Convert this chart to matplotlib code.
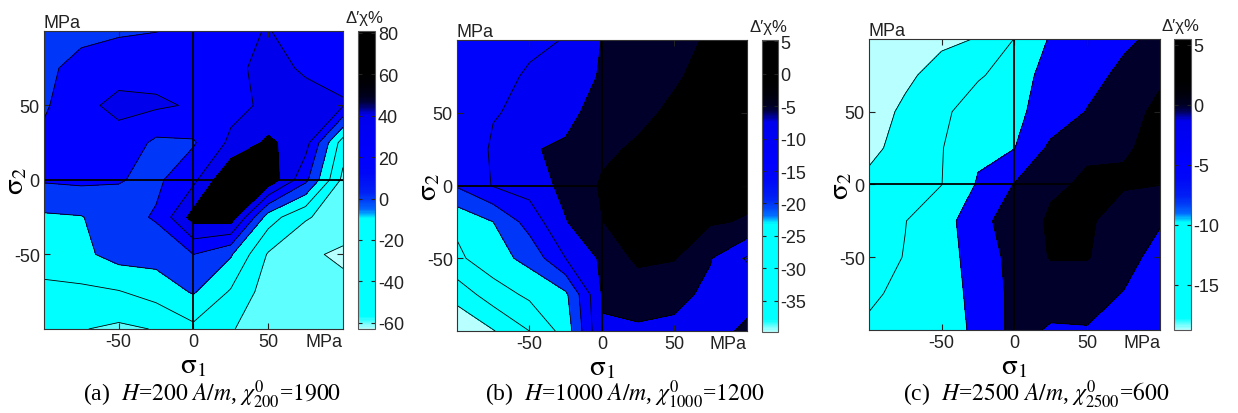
import numpy as np
import matplotlib
matplotlib.use('Agg')
import matplotlib.pyplot as plt
from matplotlib.colors import LinearSegmentedColormap, Normalize
from matplotlib.cm import ScalarMappable

plt.rcParams['font.family'] = 'Liberation Sans'
plt.rcParams['mathtext.fontset'] = 'stix'
plt.rcParams['axes.unicode_minus'] = False
plt.rcParams['contour.negative_linestyle'] = 'solid'

# stress grid (MPa), same for sigma1 (columns) and sigma2 (rows)
sigma = np.array([-100, -75, -50, -25, 0, 25, 50, 75, 100])

# relative change of susceptibility, rows from sigma2=+100 down to -100
dchi_200 = np.array([
    [15, 15, 17, 19.5, 24, 35, 41, 30, 28],
    [16, 26, 34, 33, 30, 36, 45, 38, 33],
    [17, 36, 44, 43, 38, 34, 44, 46, 42],
    [25, 28, 34, 16, 18, 44, 64, 48, -30],
    [22, 24, 21, 16, 35, 81, 75, 25, -45],
    [-3, -1, 12, 22, 68, 72, -10, -38, -50],
    [-10, -5, 8, 8, 20, 2, -42, -57, -63],
    [-25, -24, -21, -12, 2, -22, -50, -55, -55],
    [-30, -39, -44, -39, -25, -38, -55, -58, -55],
])
dchi_1000 = np.array([
    [-12, -11.5, -10.5, -9.9, -4.9, -3, -1.2, 0.5, 1.5],
    [-12, -10.8, -9.7, -8.5, -4.4, -2.5, -0.5, 1.5, 3],
    [-12.5, -10.2, -9.3, -7, -2, -1, 0.8, 2.5, 4],
    [-13, -9.5, -5.5, -4, -0.8, 0.6, 2.5, 3.5, 5.2],
    [-14.5, -9.7, -8, -3.5, 0.5, 2.5, 4, 3, 1.5],
    [-24, -20, -13, -5.3, -0.1, 2, 3, 0.5, -0.4],
    [-26, -22, -18.5, -10, -4.2, 1.2, 0.3, -4.8, -10.5],
    [-33, -27.5, -24, -21, -4.8, -3.5, -3.8, -6, -6],
    [-39.8, -35.3, -30, -23, -5.2, -5.5, -6, -6, -4.5],
])
dchi_2500 = np.array([
    [-18.75, -17.5, -16, -14.8, -9.9, -4.5, -2.5, -0.8, 1],
    [-18.2, -16, -13, -10.5, -8, -2.5, -1.5, 1, 4.8],
    [-17.5, -14, -11, -7.5, -6, -3, 0.2, 4.5, 5.3],
    [-16, -13.5, -10.2, -6, -5.1, 1, 4.6, 4.8, 5.5],
    [-14, -12, -10.05, -4.5, 0.2, 4.5, 5.4, 5.3, 5.1],
    [-13, -10.1, -7, -2, 3, 5.5, 5.5, 3.5, 0.5],
    [-12, -9.8, -6.5, -3.5, 2, 5.3, 5.3, 2, -2],
    [-11, -8.5, -6.5, -4, 1.5, 2, 2, -0.2, -3],
    [-9, -7.5, -6.8, -4.2, 1.5, -0.5, -0.3, -2, -3],
])

levels_200 = [-60, -40, -20, 0, 20, 40, 60]
levels_1000 = [-35, -30, -25, -20, -15, -10, -5, 0]
levels_2500 = [-15, -10, -5, 0, 5]

cticks_200 = [-60, -40, -20, 0, 20, 40, 60, 80]
cticks_1000 = [-35, -30, -25, -20, -15, -10, -5, 0, 5]
cticks_2500 = [-15, -10, -5, 0, 5]

captions = [
    r'(a)  $\mathit{H}$=$\mathit{200\ A/m}$, $\chi^{0}_{200}$=$\mathit{1900}$',
    r'(b)  $\mathit{H}$=$\mathit{1000\ A/m}$, $\chi^{0}_{1000}$=$\mathit{1200}$',
    r'(c)  $\mathit{H}$=$\mathit{2500\ A/m}$, $\chi^{0}_{2500}$=$\mathit{600}$',
]

# cyan -> blue -> black map, like the matlab one in the paper
cmap = LinearSegmentedColormap.from_list('cyanblue', [
    (0.00, (0.72, 1.0, 1.0)),
    (0.04, (0.0, 1.0, 1.0)),
    (0.37, (0.0, 1.0, 1.0)),
    (0.385, (0.0, 0.7, 1.0)),
    (0.40, (0.0, 0.42, 1.0)),
    (0.43, (0.0, 0.25, 0.97)),
    (0.46, (0.0, 0.12, 0.96)),
    (0.52, (0.0, 0.03, 0.97)),
    (0.58, (0.0, 0.0, 1.0)),
    (0.72, (0.0, 0.0, 0.93)),
    (0.74, (0.0, 0.0, 0.55)),
    (0.76, (0.0, 0.0, 0.25)),
    (0.78, (0.0, 0.0, 0.12)),
    (0.82, (0.0, 0.0, 0.03)),
    (0.86, (0.0, 0.0, 0.0)),
    (1.00, (0.0, 0.0, 0.0)),
], N=256)

fig = plt.figure(figsize=(12.38, 4.14), dpi=100)

boxes = [
    ([0.0355, 0.203, 0.2415, 0.720], [0.2892, 0.203, 0.0137, 0.720]),
    ([0.3691, 0.198, 0.2342, 0.703], [0.6155, 0.196, 0.0129, 0.705]),
    ([0.7019, 0.2005, 0.2351, 0.703], [0.9483, 0.2005, 0.0137, 0.703]),
]
cap_x = [0.171, 0.505, 0.837]

panels = [(dchi_200, levels_200, cticks_200),
          (dchi_1000, levels_1000, cticks_1000),
          (dchi_2500, levels_2500, cticks_2500)]

for i, (z, levels, cticks) in enumerate(panels):
    z = np.flipud(z)
    ax = fig.add_axes(boxes[i][0])
    cax = fig.add_axes(boxes[i][1])

    norm = Normalize(z.min(), z.max())
    bounds = [z.min()] + levels + [z.max()]
    fills = [cmap(norm(b)) for b in bounds[:-1]]
    ax.contourf(sigma, sigma, z, levels=bounds, colors=fills)
    ax.contour(sigma, sigma, z, levels=levels, colors='k', linewidths=0.6,
               linestyles='solid')
    ax.axhline(0, color='k', lw=1.3)
    ax.axvline(0, color='k', lw=1.3)

    ax.set_xlim(-100, 100)
    ax.set_ylim(-100, 100)
    ax.set_xticks([-50, 0, 50])
    ax.set_yticks([-50, 0, 50])
    ax.tick_params(direction='in', length=4, top=True, right=True,
                   labelsize=13, pad=3, colors='#222222')
    for s in ax.spines.values():
        s.set_linewidth(0.8)
        s.set_color('#333333')

    ax.text(0, 1.0, 'MPa', transform=ax.transAxes, ha='left', va='bottom',
            fontsize=13, color='#222222')
    ax.text(1.0, -0.015, 'MPa', transform=ax.transAxes, ha='right', va='top',
            fontsize=13, color='#222222')
    ax.set_xlabel(r'$\mathrm{σ}_1$', fontsize=21)
    ax.set_ylabel(r'$\mathrm{σ}_2$', fontsize=21)
    ax.xaxis.set_label_coords(0.5, -0.072)
    ax.yaxis.set_label_coords(-0.05, 0.5)

    cb = fig.colorbar(ScalarMappable(norm=norm, cmap=cmap), cax=cax)
    cb.set_ticks(cticks)
    cax.tick_params(direction='in', length=3, left=True, right=True,
                    labelsize=13, pad=2, colors='#222222')
    cb.outline.set_linewidth(0.8)
    cb.outline.set_edgecolor('#555555')
    cax.text(0.4, 1.02, "Δ′χ%", transform=cax.transAxes, ha='center',
             va='bottom', fontsize=12, color='#222222')

    fig.text(cap_x[i], 0.045, captions[i], ha='center', va='center',
             fontsize=17, family='Liberation Serif')

fig.savefig('out.png', dpi=100)
